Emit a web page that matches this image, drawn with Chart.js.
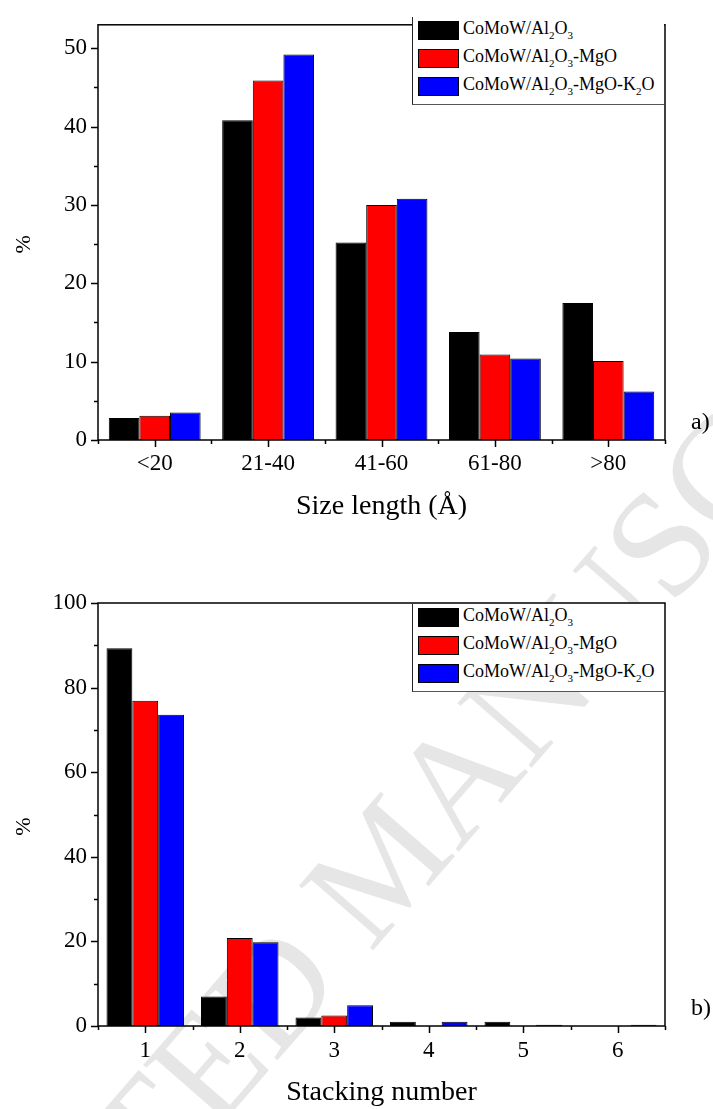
<!DOCTYPE html>
<html>
<head>
<meta charset="utf-8">
<script src="https://cdn.jsdelivr.net/npm/chart.js@4.4.0/dist/chart.umd.min.js"></script>
<style>
  html, body { margin: 0; padding: 0; background: #fff; }
  body { width: 713px; height: 1109px; position: relative; overflow: hidden; font-family: "Liberation Serif", "Times New Roman", serif; }
  .watermark { position: absolute; left: -258px; top: 1484px; transform-origin: 0 0; transform: rotate(-49deg);
    font-size: 150px; line-height: 150px; white-space: nowrap; color: #e6e6e6; }
  .panel { position: absolute; left: 0; width: 713px; }
  .legend { position: absolute; left: 412px; width: 252px; height: 88px; box-sizing: border-box;
    border-left: 1px solid #222; border-bottom: 1px solid #555; background: #fff; font-size: 18px; color: #000; }
  .legend .row { position: absolute; left: 5px; height: 19px; white-space: nowrap; }
  .legend .sw { position: absolute; left: 0; top: 0; width: 41px; height: 19px; box-sizing: border-box; border: 1px solid #000; }
  .legend .tx { position: absolute; left: 45px; top: -2px; line-height: 19px; }
  .legend sub { font-size: 11px; vertical-align: -5px; line-height: 0; }
</style>
</head>
<body>
<div class="watermark">ACCEPTED MANUSCRIPT</div>
<div class="panel" style="top:0;height:560px"><canvas id="sizeChart"></canvas></div>
<div class="panel" style="top:560px;height:549px"><canvas id="stackChart"></canvas></div>
<div class="legend" id="sizeLegend" style="top:17px"></div>
<div class="legend" id="stackLegend" style="top:604px"></div>
<script>
  // series names and colours shared by both panels
  const seriesNames = ['CoMoW/Al<sub>2</sub>O<sub>3</sub>', 'CoMoW/Al<sub>2</sub>O<sub>3</sub>-MgO', 'CoMoW/Al<sub>2</sub>O<sub>3</sub>-MgO-K<sub>2</sub>O'];
  const seriesColors = ['#000000', '#ff0000', '#0000ff'];

  // a) slab length distribution (%)
  const sizeLabels = ['<20', '21-40', '41-60', '61-80', '>80'];
  const sizeAl2O3 = [2.8, 40.8, 25.2, 13.8, 17.5];
  const sizeAl2O3MgO = [3.1, 45.9, 30.0, 10.9, 10.1];
  const sizeAl2O3MgOK2O = [3.5, 49.2, 30.8, 10.4, 6.2];
  const sizeTicks = [0, 10, 20, 30, 40, 50];

  // b) stacking number distribution (%)
  const stackLabels = ['1', '2', '3', '4', '5', '6'];
  const stackAl2O3 = [89.3, 7.0, 2.0, 1.0, 1.0, 0];
  const stackAl2O3MgO = [76.9, 20.8, 2.5, 0, 0, 0];
  const stackAl2O3MgOK2O = [73.6, 19.8, 4.9, 1.0, 0.3, 0.3];
  const stackTicks = [0, 20, 40, 60, 80, 100];

  const serif = '"Liberation Serif", "Times New Roman", serif';

  // box frame, outward ticks (major + minor), the "%" axis title and the panel tag
  const frameTicks = {
    id: 'frameTicks',
    afterDraw(chart, args, opts) {
      const { ctx, chartArea: a, scales: { x, y } } = chart;
      ctx.save();
      ctx.strokeStyle = '#000';
      ctx.lineWidth = 1.5;
      ctx.strokeRect(a.left, a.top, a.right - a.left, a.bottom - a.top);
      ctx.beginPath();
      y.ticks.forEach(t => {
        const py = Math.round(y.getPixelForValue(t.value)) + 0.5;
        ctx.moveTo(a.left, py); ctx.lineTo(a.left - 7, py);
        const mid = t.value + opts.minor;
        if (mid < y.max) {
          const pm = Math.round(y.getPixelForValue(mid)) + 0.5;
          ctx.moveTo(a.left, pm); ctx.lineTo(a.left - 4, pm);
        }
      });
      const n = x.ticks.length;
      for (let i = 0; i < n; i++) {
        const px = Math.round(x.getPixelForTick(i)) + 0.5;
        ctx.moveTo(px, a.bottom); ctx.lineTo(px, a.bottom + 7);
      }
      for (let i = 0; i <= n; i++) {
        const px = Math.round(a.left + (a.right - a.left) * i / n) + 0.5;
        ctx.moveTo(px, a.bottom); ctx.lineTo(px, a.bottom + 4);
      }
      ctx.stroke();

      ctx.fillStyle = '#000';
      ctx.textBaseline = 'middle';
      ctx.textAlign = 'center';
      ctx.font = '22px ' + serif;
      ctx.save();
      ctx.translate(24, (a.top + a.bottom) / 2 + 12);
      ctx.rotate(-Math.PI / 2);
      ctx.fillText('%', 0, 0);
      ctx.restore();

      ctx.textAlign = 'left';
      ctx.font = '24px ' + serif;
      ctx.fillText(opts.tag, a.right + 26, a.bottom - 17);
      ctx.restore();
    }
  };

  function makeChart(id, labels, series, ticks, max, minor, xTitle, tag, geo) {
    return new Chart(document.getElementById(id), {
      type: 'bar',
      data: {
        labels,
        datasets: series.map((d, i) => ({
          label: seriesNames[i], data: d, backgroundColor: seriesColors[i],
          borderColor: '#000', borderWidth: 1, barPercentage: 1, categoryPercentage: geo.cat
        }))
      },
      options: {
        responsive: true,
        maintainAspectRatio: false,
        devicePixelRatio: 1,
        animation: false,
        layout: { padding: { left: 0, right: 48, top: geo.top, bottom: 0 } },
        plugins: {
          legend: { display: false },
          tooltip: { enabled: false },
          frameTicks: { tag, minor }
        },
        scales: {
          x: {
            grid: { display: false, drawTicks: false },
            border: { display: false },
            ticks: { color: '#000', font: { family: serif, size: 23 }, padding: geo.labelPad, maxRotation: 0 },
            title: { display: true, text: xTitle, color: '#000', font: { family: serif, size: 28 }, padding: { top: 0, bottom: geo.titlePad } },
            afterFit: s => { s.height = geo.xHeight; }
          },
          y: {
            min: 0, max,
            afterBuildTicks: s => { s.ticks = ticks.map(v => ({ value: v })); },
            grid: { display: false, drawTicks: false },
            border: { display: false },
            ticks: { color: '#000', font: { family: serif, size: 23 }, padding: 11 },
            afterFit: s => { s.width = 98; }
          }
        }
      },
      plugins: [frameTicks]
    });
  }

  function buildLegend(id) {
    const box = document.getElementById(id);
    seriesNames.forEach((name, i) => {
      const row = document.createElement('div');
      row.className = 'row';
      row.style.top = (4 + i * 28) + 'px';
      row.innerHTML = '<span class="sw" style="background:' + seriesColors[i] + '"></span><span class="tx">' + name + '</span>';
      box.appendChild(row);
    });
  }

  makeChart('sizeChart', sizeLabels, [sizeAl2O3, sizeAl2O3MgO, sizeAl2O3MgOK2O], sizeTicks, 53, 5,
    'Size length (Å)', 'a)', { top: 16, xHeight: 120, labelPad: 10, titlePad: 37, cat: 0.81 });
  makeChart('stackChart', stackLabels, [stackAl2O3, stackAl2O3MgO, stackAl2O3MgOK2O], stackTicks, 100, 10,
    'Stacking number', 'b)', { top: 43, xHeight: 83, labelPad: 11, titlePad: 0, cat: 0.82 });
  buildLegend('sizeLegend');
  buildLegend('stackLegend');
</script>
</body>
</html>
